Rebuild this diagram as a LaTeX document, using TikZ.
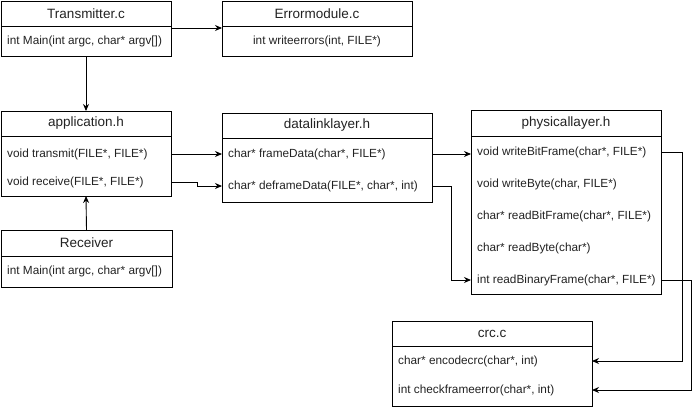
\documentclass[tikz,border=0pt]{standalone}
\usepackage{fontspec}
\setmainfont{Liberation Sans}
\usepackage{xcolor}
\usepackage{tikz}
\usetikzlibrary{arrows.meta, positioning}
\definecolor{linedark}{RGB}{0, 0, 0}
\definecolor{textdark}{RGB}{34, 34, 34}

\begin{document}
\begin{tikzpicture}[
    x=1pt, y=-1pt,
    classhead/.style={rectangle, draw=linedark, line width=0.9pt, outer sep=0pt, inner sep=0pt, minimum height=25, text=textdark, font=\fontsize{13.5}{16}\selectfont},
    classbody/.style={rectangle, draw=linedark, line width=0.9pt, outer sep=0pt, inner sep=0pt, below=0pt of #1},
    method/.style={anchor=west, inner sep=0pt, text=textdark, font=\fontsize{11.8}{14}\selectfont},
    arrow/.style={-{Stealth[length=7pt, width=6pt]}, line width=0.9pt, linedark}
]
    \useasboundingbox (0,0) rectangle (700,410);

    % Classes
    \node[classhead, minimum width=170, anchor=north west] (txhead) at (1,1) {Transmitter.c};
    \node[classbody=txhead, minimum width=170, minimum height=30] (txbody) {};
    \node[classhead, minimum width=190, anchor=north west] (errhead) at (222,1) {Errormodule.c};
    \node[classbody=errhead, minimum width=190, minimum height=30] (errbody) {};
    \node[classhead, minimum width=170, anchor=north west] (apphead) at (1,111) {application.h};
    \node[classbody=apphead, minimum width=170, minimum height=60] (appbody) {};
    \node[classhead, minimum width=171, minimum height=26, anchor=north west] (rxhead) at (1,230) {Receiver};
    \node[classbody=rxhead, minimum width=171, minimum height=31] (rxbody) {};
    \node[classhead, minimum width=210, anchor=north west] (dlhead) at (222,113) {datalinklayer.h};
    \node[classbody=dlhead, minimum width=210, minimum height=64] (dlbody) {};
    \node[classhead, minimum width=190, minimum height=26, anchor=north west] (phyhead) at (471,110) {physicallayer.h};
    \node[classbody=phyhead, minimum width=190, minimum height=158] (phybody) {};
    \node[classhead, minimum width=200, anchor=north west] (crchead) at (392,321) {crc.c};
    \node[classbody=crchead, minimum width=200, minimum height=60] (crcbody) {};

    % Methods
    \node[method] (txmain) at (7,41) {int Main(int argc, char* argv[])};
    \node[method, anchor=center] (writeerr) at (317,41) {int writeerrors(int, FILE*)};
    \node[method] (transmit) at (7,154) {void transmit(FILE*, FILE*)};
    \node[method] (receive) at (7,182) {void receive(FILE*, FILE*)};
    \node[method] (rxmain) at (7,271) {int Main(int argc, char* argv[])};
    \node[method] (frame) at (228,154) {char* frameData(char*, FILE*)};
    \node[method] (deframe) at (228,186) {char* deframeData(FILE*, char*, int)};
    \node[method] (writebit) at (477,152) {void writeBitFrame(char*, FILE*)};
    \node[method] (writebyte) at (477,184) {void writeByte(char, FILE*)};
    \node[method] (readbit) at (477,216) {char* readBitFrame(char*, FILE*)};
    \node[method] (readbyte) at (477,248) {char* readByte(char*)};
    \node[method] (readbin) at (477,280) {int readBinaryFrame(char*, FILE*)};
    \node[method] (encode) at (398,361) {char* encodecrc(char*, int)};
    \node[method] (check) at (398,390) {int checkframeerror(char*, int)};

    % Connectors
    \draw[arrow] ([yshift=-2pt]txbody.north east) -- ([yshift=-2pt]errbody.north west);
    \draw[arrow] (txbody.south) -- (apphead.north);
    \draw[arrow] (rxhead.north) -- (appbody.south);
    \draw[arrow] (appbody.east |- transmit) -- (dlbody.west |- transmit);
    \draw[arrow] (appbody.east |- receive) -- ++(26,0) |- (dlbody.west |- deframe);
    \draw[arrow] (dlbody.east |- frame) -- (phybody.west |- frame);
    \draw[arrow] (dlbody.east |- deframe) -- ++(19,0) |- (phybody.west |- readbin);
    \draw[arrow] (phybody.east |- writebit) -- ++(21,0) |- (crcbody.east |- encode);
    \draw[arrow] (phybody.east |- readbin) -- ++(30,0) |- (crcbody.east |- check);
\end{tikzpicture}
\end{document}
